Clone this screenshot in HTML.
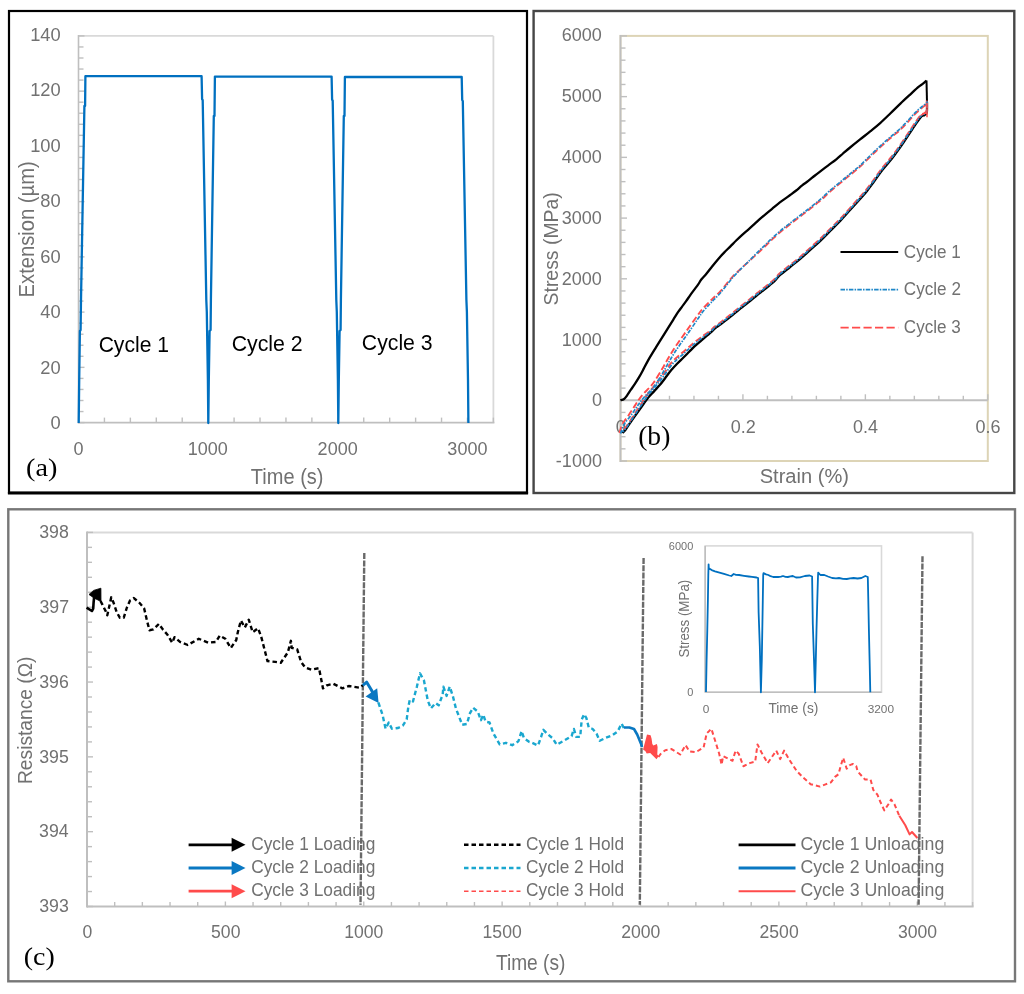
<!DOCTYPE html>
<html><head><meta charset="utf-8"><title>Figure</title>
<style>
html,body{margin:0;padding:0;background:#fff;}
body{width:1024px;height:994px;overflow:hidden;font-family:"Liberation Sans", sans-serif;}
svg{display:block;will-change:transform;}
</style></head>
<body>
<svg width="1024" height="994" viewBox="0 0 1024 994">
<rect x="0" y="0" width="1024" height="994" fill="#fff"/>
<rect x="9.00" y="11.00" width="518.00" height="481.50" fill="none" stroke="#000" stroke-width="2.2"/>
<line x1="7.90" y1="493.20" x2="528.10" y2="493.20" stroke="#000" stroke-width="2.4" />
<rect x="533.60" y="11.00" width="480.70" height="482.00" fill="none" stroke="#464646" stroke-width="2.4"/>
<rect x="8.30" y="509.30" width="1006.70" height="472.00" fill="none" stroke="#777777" stroke-width="2.4"/>
<line x1="78.50" y1="35.90" x2="493.40" y2="35.90" stroke="#d9d9d9" stroke-width="1.8" />
<line x1="493.40" y1="35.90" x2="493.40" y2="422.60" stroke="#d9d9d9" stroke-width="1.8" />
<line x1="78.50" y1="422.60" x2="494.40" y2="422.60" stroke="#bfbfbf" stroke-width="1.8" />
<line x1="78.50" y1="423.50" x2="78.50" y2="35.00" stroke="#bfbfbf" stroke-width="1.6" />
<line x1="78.50" y1="422.60" x2="84.50" y2="422.60" stroke="#bfbfbf" stroke-width="1.4" />
<line x1="78.50" y1="411.55" x2="83.50" y2="411.55" stroke="#bfbfbf" stroke-width="1.4" />
<line x1="78.50" y1="400.50" x2="83.50" y2="400.50" stroke="#bfbfbf" stroke-width="1.4" />
<line x1="78.50" y1="389.45" x2="83.50" y2="389.45" stroke="#bfbfbf" stroke-width="1.4" />
<line x1="78.50" y1="378.41" x2="83.50" y2="378.41" stroke="#bfbfbf" stroke-width="1.4" />
<line x1="78.50" y1="367.36" x2="84.50" y2="367.36" stroke="#bfbfbf" stroke-width="1.4" />
<line x1="78.50" y1="356.31" x2="83.50" y2="356.31" stroke="#bfbfbf" stroke-width="1.4" />
<line x1="78.50" y1="345.26" x2="83.50" y2="345.26" stroke="#bfbfbf" stroke-width="1.4" />
<line x1="78.50" y1="334.21" x2="83.50" y2="334.21" stroke="#bfbfbf" stroke-width="1.4" />
<line x1="78.50" y1="323.16" x2="83.50" y2="323.16" stroke="#bfbfbf" stroke-width="1.4" />
<line x1="78.50" y1="312.11" x2="84.50" y2="312.11" stroke="#bfbfbf" stroke-width="1.4" />
<line x1="78.50" y1="301.07" x2="83.50" y2="301.07" stroke="#bfbfbf" stroke-width="1.4" />
<line x1="78.50" y1="290.02" x2="83.50" y2="290.02" stroke="#bfbfbf" stroke-width="1.4" />
<line x1="78.50" y1="278.97" x2="83.50" y2="278.97" stroke="#bfbfbf" stroke-width="1.4" />
<line x1="78.50" y1="267.92" x2="83.50" y2="267.92" stroke="#bfbfbf" stroke-width="1.4" />
<line x1="78.50" y1="256.87" x2="84.50" y2="256.87" stroke="#bfbfbf" stroke-width="1.4" />
<line x1="78.50" y1="245.82" x2="83.50" y2="245.82" stroke="#bfbfbf" stroke-width="1.4" />
<line x1="78.50" y1="234.77" x2="83.50" y2="234.77" stroke="#bfbfbf" stroke-width="1.4" />
<line x1="78.50" y1="223.73" x2="83.50" y2="223.73" stroke="#bfbfbf" stroke-width="1.4" />
<line x1="78.50" y1="212.68" x2="83.50" y2="212.68" stroke="#bfbfbf" stroke-width="1.4" />
<line x1="78.50" y1="201.63" x2="84.50" y2="201.63" stroke="#bfbfbf" stroke-width="1.4" />
<line x1="78.50" y1="190.58" x2="83.50" y2="190.58" stroke="#bfbfbf" stroke-width="1.4" />
<line x1="78.50" y1="179.53" x2="83.50" y2="179.53" stroke="#bfbfbf" stroke-width="1.4" />
<line x1="78.50" y1="168.48" x2="83.50" y2="168.48" stroke="#bfbfbf" stroke-width="1.4" />
<line x1="78.50" y1="157.43" x2="83.50" y2="157.43" stroke="#bfbfbf" stroke-width="1.4" />
<line x1="78.50" y1="146.39" x2="84.50" y2="146.39" stroke="#bfbfbf" stroke-width="1.4" />
<line x1="78.50" y1="135.34" x2="83.50" y2="135.34" stroke="#bfbfbf" stroke-width="1.4" />
<line x1="78.50" y1="124.29" x2="83.50" y2="124.29" stroke="#bfbfbf" stroke-width="1.4" />
<line x1="78.50" y1="113.24" x2="83.50" y2="113.24" stroke="#bfbfbf" stroke-width="1.4" />
<line x1="78.50" y1="102.19" x2="83.50" y2="102.19" stroke="#bfbfbf" stroke-width="1.4" />
<line x1="78.50" y1="91.14" x2="84.50" y2="91.14" stroke="#bfbfbf" stroke-width="1.4" />
<line x1="78.50" y1="80.09" x2="83.50" y2="80.09" stroke="#bfbfbf" stroke-width="1.4" />
<line x1="78.50" y1="69.05" x2="83.50" y2="69.05" stroke="#bfbfbf" stroke-width="1.4" />
<line x1="78.50" y1="58.00" x2="83.50" y2="58.00" stroke="#bfbfbf" stroke-width="1.4" />
<line x1="78.50" y1="46.95" x2="83.50" y2="46.95" stroke="#bfbfbf" stroke-width="1.4" />
<line x1="78.50" y1="35.90" x2="84.50" y2="35.90" stroke="#bfbfbf" stroke-width="1.4" />
<line x1="104.43" y1="422.60" x2="104.43" y2="417.60" stroke="#bfbfbf" stroke-width="1.4" />
<line x1="130.36" y1="422.60" x2="130.36" y2="417.60" stroke="#bfbfbf" stroke-width="1.4" />
<line x1="156.29" y1="422.60" x2="156.29" y2="417.60" stroke="#bfbfbf" stroke-width="1.4" />
<line x1="182.22" y1="422.60" x2="182.22" y2="417.60" stroke="#bfbfbf" stroke-width="1.4" />
<line x1="208.16" y1="422.60" x2="208.16" y2="417.60" stroke="#bfbfbf" stroke-width="1.4" />
<line x1="234.09" y1="422.60" x2="234.09" y2="417.60" stroke="#bfbfbf" stroke-width="1.4" />
<line x1="260.02" y1="422.60" x2="260.02" y2="417.60" stroke="#bfbfbf" stroke-width="1.4" />
<line x1="285.95" y1="422.60" x2="285.95" y2="417.60" stroke="#bfbfbf" stroke-width="1.4" />
<line x1="311.88" y1="422.60" x2="311.88" y2="417.60" stroke="#bfbfbf" stroke-width="1.4" />
<line x1="337.81" y1="422.60" x2="337.81" y2="417.60" stroke="#bfbfbf" stroke-width="1.4" />
<line x1="363.74" y1="422.60" x2="363.74" y2="417.60" stroke="#bfbfbf" stroke-width="1.4" />
<line x1="389.68" y1="422.60" x2="389.68" y2="417.60" stroke="#bfbfbf" stroke-width="1.4" />
<line x1="415.61" y1="422.60" x2="415.61" y2="417.60" stroke="#bfbfbf" stroke-width="1.4" />
<line x1="441.54" y1="422.60" x2="441.54" y2="417.60" stroke="#bfbfbf" stroke-width="1.4" />
<line x1="467.47" y1="422.60" x2="467.47" y2="417.60" stroke="#bfbfbf" stroke-width="1.4" />
<line x1="493.40" y1="422.60" x2="493.40" y2="417.60" stroke="#bfbfbf" stroke-width="1.4" />
<text x="50.48" y="428.92" font-size="18.31" fill="#717171" text-anchor="start" font-family='"Liberation Sans", sans-serif' >0</text>
<text x="40.32" y="373.50" font-size="18.31" fill="#717171" text-anchor="start" font-family='"Liberation Sans", sans-serif' >20</text>
<text x="40.32" y="318.09" font-size="18.31" fill="#717171" text-anchor="start" font-family='"Liberation Sans", sans-serif' >40</text>
<text x="40.32" y="262.67" font-size="18.31" fill="#717171" text-anchor="start" font-family='"Liberation Sans", sans-serif' >60</text>
<text x="40.32" y="207.26" font-size="18.31" fill="#717171" text-anchor="start" font-family='"Liberation Sans", sans-serif' >80</text>
<text x="30.15" y="151.85" font-size="18.31" fill="#717171" text-anchor="start" font-family='"Liberation Sans", sans-serif' >100</text>
<text x="30.15" y="96.43" font-size="18.31" fill="#717171" text-anchor="start" font-family='"Liberation Sans", sans-serif' >120</text>
<text x="30.15" y="41.02" font-size="18.31" fill="#717171" text-anchor="start" font-family='"Liberation Sans", sans-serif' >140</text>
<text x="73.45" y="454.82" font-size="18.028" fill="#717171" text-anchor="start" font-family='"Liberation Sans", sans-serif' >0</text>
<text x="187.74" y="454.82" font-size="18.028" fill="#717171" text-anchor="start" font-family='"Liberation Sans", sans-serif' >1000</text>
<text x="317.62" y="454.82" font-size="18.028" fill="#717171" text-anchor="start" font-family='"Liberation Sans", sans-serif' >2000</text>
<text x="447.37" y="454.82" font-size="18.028" fill="#717171" text-anchor="start" font-family='"Liberation Sans", sans-serif' >3000</text>
<text x="250.85" y="483.75" font-size="21.739" fill="#717171" text-anchor="start" font-family='"Liberation Sans", sans-serif' textLength="72.63" lengthAdjust="spacingAndGlyphs" >Time (s)</text>
<text x="34.10" y="297.41" font-size="21.304" fill="#717171" text-anchor="start" font-family='"Liberation Sans", sans-serif' textLength="136.12" lengthAdjust="spacingAndGlyphs" transform="rotate(-90 34.10 297.41)" >Extension (µm)</text>
<polyline points="78.70,423.00 79.20,380.00 79.90,331.00 80.60,330.00 81.00,300.00 84.40,106.00 85.10,106.00 85.40,76.20 201.60,76.20 202.10,99.20 202.70,100.20 206.30,300.00 206.80,312.00 207.90,380.00 208.30,423.00 208.80,380.00 209.60,331.00 210.60,330.00 210.90,300.00 213.80,116.00 214.50,116.00 214.90,76.60 331.60,76.60 332.10,99.60 332.70,100.60 336.30,300.00 336.80,312.00 337.90,380.00 338.30,423.00 338.80,380.00 339.60,331.00 340.60,330.00 340.90,300.00 343.80,116.00 344.50,116.00 344.90,77.00 461.70,77.00 462.20,100.00 462.80,101.00 466.40,300.00 466.90,312.00 468.00,380.00 468.40,423.00" fill="none" stroke="#0070c0" stroke-width="2.3" stroke-linejoin="round" stroke-linecap="butt" />
<text x="98.64" y="352.30" font-size="22.609" fill="#000" text-anchor="start" font-family='"Liberation Sans", sans-serif' textLength="70.40" lengthAdjust="spacingAndGlyphs" >Cycle 1</text>
<text x="231.64" y="351.20" font-size="22.029" fill="#000" text-anchor="start" font-family='"Liberation Sans", sans-serif' textLength="71.02" lengthAdjust="spacingAndGlyphs" >Cycle 2</text>
<text x="361.84" y="350.40" font-size="21.739" fill="#000" text-anchor="start" font-family='"Liberation Sans", sans-serif' textLength="70.80" lengthAdjust="spacingAndGlyphs" >Cycle 3</text>
<text x="26.03" y="476.10" font-size="26.044" fill="#000" text-anchor="start" font-family='"Liberation Serif", serif' textLength="31.34" lengthAdjust="spacingAndGlyphs" >(a)</text>
<rect x="620.50" y="35.90" width="367.30" height="425.10" fill="none" stroke="#ddd4b6" stroke-width="2"/>
<line x1="620.50" y1="462.00" x2="620.50" y2="34.90" stroke="#bfbfbf" stroke-width="1.8" />
<line x1="620.50" y1="461.00" x2="627.00" y2="461.00" stroke="#bfbfbf" stroke-width="1.4" />
<line x1="620.50" y1="448.85" x2="625.50" y2="448.85" stroke="#bfbfbf" stroke-width="1.4" />
<line x1="620.50" y1="436.71" x2="625.50" y2="436.71" stroke="#bfbfbf" stroke-width="1.4" />
<line x1="620.50" y1="424.56" x2="625.50" y2="424.56" stroke="#bfbfbf" stroke-width="1.4" />
<line x1="620.50" y1="412.42" x2="625.50" y2="412.42" stroke="#bfbfbf" stroke-width="1.4" />
<line x1="620.50" y1="400.27" x2="627.00" y2="400.27" stroke="#bfbfbf" stroke-width="1.4" />
<line x1="620.50" y1="388.13" x2="625.50" y2="388.13" stroke="#bfbfbf" stroke-width="1.4" />
<line x1="620.50" y1="375.98" x2="625.50" y2="375.98" stroke="#bfbfbf" stroke-width="1.4" />
<line x1="620.50" y1="363.83" x2="625.50" y2="363.83" stroke="#bfbfbf" stroke-width="1.4" />
<line x1="620.50" y1="351.69" x2="625.50" y2="351.69" stroke="#bfbfbf" stroke-width="1.4" />
<line x1="620.50" y1="339.54" x2="627.00" y2="339.54" stroke="#bfbfbf" stroke-width="1.4" />
<line x1="620.50" y1="327.40" x2="625.50" y2="327.40" stroke="#bfbfbf" stroke-width="1.4" />
<line x1="620.50" y1="315.25" x2="625.50" y2="315.25" stroke="#bfbfbf" stroke-width="1.4" />
<line x1="620.50" y1="303.11" x2="625.50" y2="303.11" stroke="#bfbfbf" stroke-width="1.4" />
<line x1="620.50" y1="290.96" x2="625.50" y2="290.96" stroke="#bfbfbf" stroke-width="1.4" />
<line x1="620.50" y1="278.81" x2="627.00" y2="278.81" stroke="#bfbfbf" stroke-width="1.4" />
<line x1="620.50" y1="266.67" x2="625.50" y2="266.67" stroke="#bfbfbf" stroke-width="1.4" />
<line x1="620.50" y1="254.52" x2="625.50" y2="254.52" stroke="#bfbfbf" stroke-width="1.4" />
<line x1="620.50" y1="242.38" x2="625.50" y2="242.38" stroke="#bfbfbf" stroke-width="1.4" />
<line x1="620.50" y1="230.23" x2="625.50" y2="230.23" stroke="#bfbfbf" stroke-width="1.4" />
<line x1="620.50" y1="218.09" x2="627.00" y2="218.09" stroke="#bfbfbf" stroke-width="1.4" />
<line x1="620.50" y1="205.94" x2="625.50" y2="205.94" stroke="#bfbfbf" stroke-width="1.4" />
<line x1="620.50" y1="193.79" x2="625.50" y2="193.79" stroke="#bfbfbf" stroke-width="1.4" />
<line x1="620.50" y1="181.65" x2="625.50" y2="181.65" stroke="#bfbfbf" stroke-width="1.4" />
<line x1="620.50" y1="169.50" x2="625.50" y2="169.50" stroke="#bfbfbf" stroke-width="1.4" />
<line x1="620.50" y1="157.36" x2="627.00" y2="157.36" stroke="#bfbfbf" stroke-width="1.4" />
<line x1="620.50" y1="145.21" x2="625.50" y2="145.21" stroke="#bfbfbf" stroke-width="1.4" />
<line x1="620.50" y1="133.07" x2="625.50" y2="133.07" stroke="#bfbfbf" stroke-width="1.4" />
<line x1="620.50" y1="120.92" x2="625.50" y2="120.92" stroke="#bfbfbf" stroke-width="1.4" />
<line x1="620.50" y1="108.77" x2="625.50" y2="108.77" stroke="#bfbfbf" stroke-width="1.4" />
<line x1="620.50" y1="96.63" x2="627.00" y2="96.63" stroke="#bfbfbf" stroke-width="1.4" />
<line x1="620.50" y1="84.48" x2="625.50" y2="84.48" stroke="#bfbfbf" stroke-width="1.4" />
<line x1="620.50" y1="72.34" x2="625.50" y2="72.34" stroke="#bfbfbf" stroke-width="1.4" />
<line x1="620.50" y1="60.19" x2="625.50" y2="60.19" stroke="#bfbfbf" stroke-width="1.4" />
<line x1="620.50" y1="48.05" x2="625.50" y2="48.05" stroke="#bfbfbf" stroke-width="1.4" />
<line x1="620.50" y1="35.90" x2="627.00" y2="35.90" stroke="#bfbfbf" stroke-width="1.4" />
<line x1="620.50" y1="400.27" x2="987.80" y2="400.27" stroke="#bfbfbf" stroke-width="1.8" />
<line x1="644.99" y1="400.27" x2="644.99" y2="395.77" stroke="#bfbfbf" stroke-width="1.4" />
<line x1="669.47" y1="400.27" x2="669.47" y2="395.77" stroke="#bfbfbf" stroke-width="1.4" />
<line x1="693.96" y1="400.27" x2="693.96" y2="395.77" stroke="#bfbfbf" stroke-width="1.4" />
<line x1="718.45" y1="400.27" x2="718.45" y2="395.77" stroke="#bfbfbf" stroke-width="1.4" />
<line x1="742.93" y1="400.27" x2="742.93" y2="394.27" stroke="#bfbfbf" stroke-width="1.4" />
<line x1="767.42" y1="400.27" x2="767.42" y2="395.77" stroke="#bfbfbf" stroke-width="1.4" />
<line x1="791.91" y1="400.27" x2="791.91" y2="395.77" stroke="#bfbfbf" stroke-width="1.4" />
<line x1="816.39" y1="400.27" x2="816.39" y2="395.77" stroke="#bfbfbf" stroke-width="1.4" />
<line x1="840.88" y1="400.27" x2="840.88" y2="395.77" stroke="#bfbfbf" stroke-width="1.4" />
<line x1="865.37" y1="400.27" x2="865.37" y2="394.27" stroke="#bfbfbf" stroke-width="1.4" />
<line x1="889.85" y1="400.27" x2="889.85" y2="395.77" stroke="#bfbfbf" stroke-width="1.4" />
<line x1="914.34" y1="400.27" x2="914.34" y2="395.77" stroke="#bfbfbf" stroke-width="1.4" />
<line x1="938.83" y1="400.27" x2="938.83" y2="395.77" stroke="#bfbfbf" stroke-width="1.4" />
<line x1="963.31" y1="400.27" x2="963.31" y2="395.77" stroke="#bfbfbf" stroke-width="1.4" />
<line x1="987.80" y1="400.27" x2="987.80" y2="394.27" stroke="#bfbfbf" stroke-width="1.4" />
<text x="555.87" y="467.22" font-size="18.028" fill="#717171" text-anchor="start" font-family='"Liberation Sans", sans-serif' >-1000</text>
<text x="591.93" y="406.36" font-size="18.028" fill="#717171" text-anchor="start" font-family='"Liberation Sans", sans-serif' >0</text>
<text x="561.82" y="345.51" font-size="18.028" fill="#717171" text-anchor="start" font-family='"Liberation Sans", sans-serif' >1000</text>
<text x="561.82" y="284.65" font-size="18.028" fill="#717171" text-anchor="start" font-family='"Liberation Sans", sans-serif' >2000</text>
<text x="561.82" y="223.79" font-size="18.028" fill="#717171" text-anchor="start" font-family='"Liberation Sans", sans-serif' >3000</text>
<text x="561.82" y="162.93" font-size="18.028" fill="#717171" text-anchor="start" font-family='"Liberation Sans", sans-serif' >4000</text>
<text x="561.82" y="102.08" font-size="18.028" fill="#717171" text-anchor="start" font-family='"Liberation Sans", sans-serif' >5000</text>
<text x="561.82" y="41.22" font-size="18.028" fill="#717171" text-anchor="start" font-family='"Liberation Sans", sans-serif' >6000</text>
<text x="615.65" y="432.72" font-size="18.028" fill="#717171" text-anchor="start" font-family='"Liberation Sans", sans-serif' >0</text>
<text x="730.69" y="432.72" font-size="18.028" fill="#717171" text-anchor="start" font-family='"Liberation Sans", sans-serif' >0.2</text>
<text x="852.95" y="432.72" font-size="18.028" fill="#717171" text-anchor="start" font-family='"Liberation Sans", sans-serif' >0.4</text>
<text x="975.47" y="432.72" font-size="18.028" fill="#717171" text-anchor="start" font-family='"Liberation Sans", sans-serif' >0.6</text>
<text x="759.70" y="483.30" font-size="20.725" fill="#717171" text-anchor="start" font-family='"Liberation Sans", sans-serif' textLength="89.32" lengthAdjust="spacingAndGlyphs" >Strain (%)</text>
<text x="558.50" y="305.47" font-size="20.29" fill="#717171" text-anchor="start" font-family='"Liberation Sans", sans-serif' textLength="113.32" lengthAdjust="spacingAndGlyphs" transform="rotate(-90 558.50 305.47)" >Stress (MPa)</text>
<path d="M 620.40,400.20 C 621.02,400.00 622.98,399.82 624.10,399.00 C 625.22,398.18 626.00,396.82 627.10,395.30 C 628.20,393.78 629.40,391.80 630.70,389.90 C 632.00,388.00 633.50,386.02 634.90,383.90 C 636.30,381.78 637.78,379.43 639.10,377.20 C 640.42,374.97 641.32,373.27 642.80,370.50 C 644.28,367.73 645.78,364.48 648.00,360.60 C 650.22,356.72 653.42,351.58 656.10,347.20 C 658.78,342.82 661.25,338.87 664.10,334.30 C 666.95,329.73 670.88,323.48 673.20,319.80 C 675.52,316.12 676.52,314.40 678.00,312.20 C 679.48,310.00 680.75,308.43 682.10,306.60 C 683.45,304.77 684.77,303.08 686.10,301.20 C 687.43,299.32 688.77,297.18 690.10,295.30 C 691.43,293.42 692.75,291.72 694.10,289.90 C 695.45,288.08 697.00,286.13 698.20,284.40 C 699.40,282.67 700.00,281.18 701.30,279.50 C 702.60,277.82 704.20,276.47 706.00,274.30 C 707.80,272.13 710.08,269.02 712.10,266.50 C 714.12,263.98 716.10,261.52 718.10,259.20 C 720.10,256.88 722.08,254.70 724.10,252.60 C 726.12,250.50 728.18,248.62 730.20,246.60 C 732.22,244.58 734.20,242.47 736.20,240.50 C 738.20,238.53 740.18,236.62 742.20,234.80 C 744.22,232.98 746.28,231.37 748.30,229.60 C 750.32,227.83 752.35,225.98 754.30,224.20 C 756.25,222.42 758.05,220.63 760.00,218.90 C 761.95,217.17 763.98,215.48 766.00,213.80 C 768.02,212.12 770.08,210.47 772.10,208.80 C 774.12,207.13 776.10,205.37 778.10,203.80 C 780.10,202.23 782.08,200.87 784.10,199.40 C 786.12,197.93 788.18,196.48 790.20,195.00 C 792.22,193.52 794.20,192.12 796.20,190.50 C 798.20,188.88 800.18,186.90 802.20,185.30 C 804.22,183.70 806.28,182.45 808.30,180.90 C 810.32,179.35 812.40,177.52 814.30,176.00 C 816.20,174.48 817.37,173.58 819.70,171.80 C 822.03,170.02 825.53,167.38 828.30,165.30 C 831.07,163.22 833.85,161.27 836.30,159.30 C 838.75,157.33 840.70,155.47 843.00,153.50 C 845.30,151.53 847.25,149.85 850.10,147.50 C 852.95,145.15 856.75,142.08 860.10,139.40 C 863.45,136.72 866.85,134.12 870.20,131.40 C 873.55,128.68 876.85,126.08 880.20,123.10 C 883.55,120.12 886.93,116.75 890.30,113.50 C 893.67,110.25 897.05,106.80 900.40,103.60 C 903.75,100.40 907.38,97.08 910.40,94.30 C 913.42,91.52 916.40,88.68 918.50,86.90 C 920.60,85.12 921.67,84.65 923.00,83.60 C 924.33,82.55 925.92,81.10 926.50,80.60" fill="none" stroke="#000" stroke-width="2.3" stroke-linejoin="round" />
<polyline points="926.50,80.60 927.00,102.20" fill="none" stroke="#000" stroke-width="2.0" stroke-linejoin="round" stroke-linecap="butt" />
<path d="M 927.00,102.20 C 926.97,103.92 927.22,110.37 926.80,112.50 C 926.38,114.63 925.55,114.17 924.50,115.00 C 923.45,115.83 922.52,115.17 920.50,117.50 C 918.48,119.83 915.42,124.58 912.40,129.00 C 909.38,133.42 905.75,139.17 902.40,144.00 C 899.05,148.83 895.65,153.67 892.30,158.00 C 888.95,162.33 885.35,166.08 882.30,170.00 C 879.25,173.92 876.62,177.92 874.00,181.50 C 871.38,185.08 868.85,188.67 866.60,191.50 C 864.35,194.33 863.18,195.48 860.50,198.50 C 857.82,201.52 853.85,205.90 850.50,209.60 C 847.15,213.30 843.75,217.18 840.40,220.70 C 837.05,224.22 833.75,227.35 830.40,230.70 C 827.05,234.05 823.67,237.60 820.30,240.80 C 816.93,244.00 813.55,246.88 810.20,249.90 C 806.85,252.92 803.55,256.05 800.20,258.90 C 796.85,261.75 793.45,264.32 790.10,267.00 C 786.75,269.68 782.67,272.67 780.10,275.00 C 777.53,277.33 776.50,279.25 774.70,281.00 C 772.90,282.75 771.20,283.95 769.30,285.50 C 767.40,287.05 765.32,288.70 763.30,290.30 C 761.28,291.90 759.22,293.48 757.20,295.10 C 755.18,296.72 753.20,298.38 751.20,300.00 C 749.20,301.62 747.22,303.20 745.20,304.80 C 743.18,306.40 741.12,307.98 739.10,309.60 C 737.08,311.22 735.10,312.88 733.10,314.50 C 731.10,316.12 729.12,317.70 727.10,319.30 C 725.08,320.90 723.02,322.60 721.00,324.10 C 718.98,325.60 716.70,326.92 715.00,328.30 C 713.30,329.68 713.10,330.35 710.80,332.40 C 708.50,334.45 703.87,338.30 701.20,340.60 C 698.53,342.90 696.80,344.33 694.80,346.20 C 692.80,348.07 691.13,349.87 689.20,351.80 C 687.27,353.73 685.22,355.82 683.20,357.80 C 681.18,359.78 679.12,361.62 677.10,363.70 C 675.08,365.78 673.10,367.88 671.10,370.30 C 669.10,372.72 666.92,375.82 665.10,378.20 C 663.28,380.58 662.02,382.45 660.20,384.60 C 658.38,386.75 656.20,388.93 654.20,391.10 C 652.20,393.27 650.52,394.68 648.20,397.60 C 645.88,400.52 642.82,405.10 640.30,408.60 C 637.78,412.10 635.50,415.17 633.10,418.60 C 630.70,422.03 627.67,426.80 625.90,429.20 C 624.13,431.60 623.07,432.37 622.50,433.00" fill="none" stroke="#000" stroke-width="2.3" stroke-linejoin="round" />
<path d="M 926.70,100.40 C 926.67,102.12 926.92,108.57 926.50,110.70 C 926.08,112.83 925.25,112.37 924.20,113.20 C 923.15,114.03 922.22,113.37 920.20,115.70 C 918.18,118.03 915.12,122.78 912.10,127.20 C 909.08,131.62 905.45,137.37 902.10,142.20 C 898.75,147.03 895.35,151.87 892.00,156.20 C 888.65,160.53 885.05,164.28 882.00,168.20 C 878.95,172.12 876.32,176.12 873.70,179.70 C 871.08,183.28 868.55,186.87 866.30,189.70 C 864.05,192.53 862.88,193.68 860.20,196.70 C 857.52,199.72 853.55,204.10 850.20,207.80 C 846.85,211.50 843.45,215.38 840.10,218.90 C 836.75,222.42 833.45,225.55 830.10,228.90 C 826.75,232.25 823.37,235.80 820.00,239.00 C 816.63,242.20 813.25,245.08 809.90,248.10 C 806.55,251.12 803.25,254.25 799.90,257.10 C 796.55,259.95 793.15,262.52 789.80,265.20 C 786.45,267.88 782.37,270.87 779.80,273.20 C 777.23,275.53 776.20,277.45 774.40,279.20 C 772.60,280.95 770.90,282.15 769.00,283.70 C 767.10,285.25 765.02,286.90 763.00,288.50 C 760.98,290.10 758.92,291.68 756.90,293.30 C 754.88,294.92 752.90,296.58 750.90,298.20 C 748.90,299.82 746.92,301.40 744.90,303.00 C 742.88,304.60 740.82,306.18 738.80,307.80 C 736.78,309.42 734.80,311.08 732.80,312.70 C 730.80,314.32 728.82,315.90 726.80,317.50 C 724.78,319.10 722.72,320.80 720.70,322.30 C 718.68,323.80 716.40,325.14 714.70,326.50 C 713.00,327.86 712.80,328.63 710.50,330.44 C 708.20,332.26 703.57,335.44 700.90,337.40 C 698.23,339.35 696.50,340.56 694.50,342.16 C 692.50,343.77 690.83,345.35 688.90,347.04 C 686.97,348.72 684.92,350.53 682.90,352.26 C 680.88,353.98 678.82,355.50 676.80,357.36 C 674.78,359.22 672.80,360.96 670.80,363.42 C 668.80,365.87 666.62,369.48 664.80,372.10 C 662.98,374.72 661.72,376.75 659.90,379.13 C 658.08,381.52 655.90,383.99 653.90,386.41 C 651.90,388.84 650.22,390.48 647.90,393.69 C 645.58,396.91 642.52,401.89 640.00,405.72 C 637.48,409.55 635.20,413.04 632.80,416.66 C 630.40,420.27 627.37,424.98 625.60,427.40 C 623.83,429.82 622.77,430.57 622.20,431.20" fill="none" stroke="#ff4b4b" stroke-width="1.9" stroke-linejoin="round" stroke-dasharray="6.5 3"/>
<path d="M 619.40,432.87 C 619.98,431.27 621.32,426.29 622.90,423.28 C 624.48,420.27 626.90,417.75 628.90,414.81 C 630.90,411.87 633.20,408.24 634.90,405.64 C 636.60,403.04 637.58,401.27 639.10,399.20 C 640.62,397.13 642.18,395.22 644.00,393.20 C 645.82,391.18 648.23,389.10 650.00,387.10 C 651.77,385.10 652.63,384.12 654.60,381.20 C 656.57,378.28 659.92,372.75 661.80,369.60 C 663.68,366.45 664.55,364.65 665.90,362.30 C 667.25,359.95 668.57,357.72 669.90,355.50 C 671.23,353.28 672.42,351.28 673.90,349.00 C 675.38,346.72 677.15,344.18 678.80,341.80 C 680.45,339.42 682.15,337.03 683.80,334.70 C 685.45,332.37 686.52,330.85 688.70,327.80 C 690.88,324.75 694.65,319.48 696.88,316.41 C 699.11,313.33 700.07,311.73 702.10,309.37 C 704.13,307.00 707.18,304.12 709.05,302.22 C 710.93,300.31 711.44,299.79 713.35,297.93 C 715.26,296.08 718.28,293.48 720.51,291.09 C 722.74,288.71 724.69,286.05 726.75,283.61 C 728.81,281.16 730.84,278.60 732.89,276.42 C 734.93,274.24 737.47,272.01 739.02,270.53 C 740.57,269.04 740.62,268.94 742.19,267.48 C 743.76,266.03 746.37,263.69 748.43,261.80 C 750.50,259.90 752.63,257.91 754.57,256.11 C 756.51,254.30 758.12,252.84 760.09,250.98 C 762.06,249.13 764.35,246.98 766.40,245.00 C 768.45,243.02 769.88,241.43 772.40,239.10 C 774.92,236.77 778.97,233.13 781.50,231.00 C 784.03,228.87 785.58,227.88 787.60,226.30 C 789.62,224.72 791.60,223.07 793.60,221.50 C 795.60,219.93 797.58,218.45 799.60,216.90 C 801.62,215.35 803.68,213.75 805.70,212.20 C 807.72,210.65 809.70,209.20 811.70,207.60 C 813.70,206.00 815.92,204.07 817.70,202.60 C 819.48,201.13 820.57,200.45 822.40,198.80 C 824.23,197.15 826.32,194.82 828.70,192.70 C 831.08,190.58 834.02,188.33 836.70,186.10 C 839.38,183.87 842.52,181.18 844.80,179.30 C 847.08,177.42 848.62,176.28 850.40,174.80 C 852.18,173.32 853.83,171.80 855.50,170.40 C 857.17,169.00 857.88,168.75 860.40,166.40 C 862.92,164.05 867.65,159.17 870.60,156.30 C 873.55,153.43 875.58,151.55 878.10,149.20 C 880.62,146.85 883.18,144.43 885.70,142.20 C 888.22,139.97 890.68,137.97 893.20,135.80 C 895.72,133.63 898.27,131.62 900.80,129.20 C 903.33,126.78 905.88,123.98 908.40,121.30 C 910.92,118.62 913.73,115.27 915.90,113.10 C 918.07,110.93 919.57,109.82 921.40,108.30 C 923.23,106.78 925.98,104.72 926.90,104.00" fill="none" stroke="#ff4b4b" stroke-width="1.9" stroke-linejoin="round" stroke-dasharray="6.5 3"/>
<path d="M 927.00,101.20 C 926.97,102.92 927.22,109.37 926.80,111.50 C 926.38,113.63 925.55,113.17 924.50,114.00 C 923.45,114.83 922.52,114.17 920.50,116.50 C 918.48,118.83 915.42,123.58 912.40,128.00 C 909.38,132.42 905.75,138.17 902.40,143.00 C 899.05,147.83 895.65,152.67 892.30,157.00 C 888.95,161.33 885.35,165.08 882.30,169.00 C 879.25,172.92 876.62,176.92 874.00,180.50 C 871.38,184.08 868.85,187.67 866.60,190.50 C 864.35,193.33 863.18,194.48 860.50,197.50 C 857.82,200.52 853.85,204.90 850.50,208.60 C 847.15,212.30 843.75,216.18 840.40,219.70 C 837.05,223.22 833.75,226.35 830.40,229.70 C 827.05,233.05 823.67,236.60 820.30,239.80 C 816.93,243.00 813.55,245.88 810.20,248.90 C 806.85,251.92 803.55,255.05 800.20,257.90 C 796.85,260.75 793.45,263.32 790.10,266.00 C 786.75,268.68 782.67,271.67 780.10,274.00 C 777.53,276.33 776.50,278.25 774.70,280.00 C 772.90,281.75 771.20,282.95 769.30,284.50 C 767.40,286.05 765.32,287.70 763.30,289.30 C 761.28,290.90 759.22,292.48 757.20,294.10 C 755.18,295.72 753.20,297.38 751.20,299.00 C 749.20,300.62 747.22,302.20 745.20,303.80 C 743.18,305.40 741.12,306.98 739.10,308.60 C 737.08,310.22 735.10,311.88 733.10,313.50 C 731.10,315.12 729.12,316.70 727.10,318.30 C 725.08,319.90 723.02,321.60 721.00,323.10 C 718.98,324.60 716.70,325.94 715.00,327.30 C 713.30,328.66 713.10,329.41 710.80,331.29 C 708.50,333.16 703.87,336.53 701.20,338.57 C 698.53,340.62 696.80,341.89 694.80,343.57 C 692.80,345.24 691.13,346.88 689.20,348.63 C 687.27,350.38 685.22,352.27 683.20,354.06 C 681.18,355.86 679.12,357.46 677.10,359.38 C 675.08,361.30 673.10,363.14 671.10,365.59 C 669.10,368.03 666.92,371.50 665.10,374.06 C 663.28,376.61 662.02,378.60 660.20,380.92 C 658.38,383.24 656.20,385.63 654.20,387.99 C 652.20,390.35 650.52,391.92 648.20,395.06 C 645.88,398.20 642.82,403.07 640.30,406.81 C 637.78,410.55 635.50,413.93 633.10,417.50 C 630.70,421.06 627.67,425.78 625.90,428.20 C 624.13,430.62 623.07,431.37 622.50,432.00" fill="none" stroke="#1f87c8" stroke-width="1.7" stroke-linejoin="round" stroke-dasharray="4 1.3 1.5 1.3"/>
<path d="M 620.60,433.50 C 621.18,431.97 622.52,427.13 624.10,424.30 C 625.68,421.47 628.10,419.22 630.10,416.50 C 632.10,413.78 634.40,410.42 636.10,408.00 C 637.80,405.58 638.78,404.00 640.30,402.00 C 641.82,400.00 643.38,398.02 645.20,396.00 C 647.02,393.98 649.43,391.90 651.20,389.90 C 652.97,387.90 653.83,386.92 655.80,384.00 C 657.77,381.08 661.12,375.55 663.00,372.40 C 664.88,369.25 665.75,367.45 667.10,365.10 C 668.45,362.75 669.77,360.52 671.10,358.30 C 672.43,356.08 673.62,354.08 675.10,351.80 C 676.58,349.52 678.35,346.98 680.00,344.60 C 681.65,342.22 683.35,339.83 685.00,337.50 C 686.65,335.17 687.75,333.72 689.90,330.60 C 692.05,327.48 695.72,321.98 697.90,318.80 C 700.08,315.62 701.02,313.97 703.00,311.50 C 704.98,309.03 707.97,306.00 709.80,304.00 C 711.63,302.00 712.13,301.45 714.00,299.50 C 715.87,297.55 718.82,294.80 721.00,292.30 C 723.18,289.80 725.08,287.05 727.10,284.50 C 729.12,281.95 731.10,279.28 733.10,277.00 C 735.10,274.72 737.58,272.37 739.10,270.80 C 740.62,269.23 740.67,269.13 742.20,267.60 C 743.73,266.07 746.28,263.60 748.30,261.60 C 750.32,259.60 752.40,257.50 754.30,255.60 C 756.20,253.70 757.75,252.10 759.70,250.20 C 761.65,248.30 763.95,246.18 766.00,244.20 C 768.05,242.22 769.48,240.63 772.00,238.30 C 774.52,235.97 778.57,232.33 781.10,230.20 C 783.63,228.07 785.18,227.08 787.20,225.50 C 789.22,223.92 791.20,222.27 793.20,220.70 C 795.20,219.13 797.18,217.65 799.20,216.10 C 801.22,214.55 803.28,212.95 805.30,211.40 C 807.32,209.85 809.30,208.40 811.30,206.80 C 813.30,205.20 815.52,203.27 817.30,201.80 C 819.08,200.33 820.17,199.65 822.00,198.00 C 823.83,196.35 825.92,194.02 828.30,191.90 C 830.68,189.78 833.62,187.53 836.30,185.30 C 838.98,183.07 842.12,180.38 844.40,178.50 C 846.68,176.62 848.22,175.48 850.00,174.00 C 851.78,172.52 853.43,171.00 855.10,169.60 C 856.77,168.20 857.48,167.95 860.00,165.60 C 862.52,163.25 867.25,158.37 870.20,155.50 C 873.15,152.63 875.18,150.75 877.70,148.40 C 880.22,146.05 882.78,143.63 885.30,141.40 C 887.82,139.17 890.28,137.17 892.80,135.00 C 895.32,132.83 897.87,130.82 900.40,128.40 C 902.93,125.98 905.48,123.18 908.00,120.50 C 910.52,117.82 913.33,114.47 915.50,112.30 C 917.67,110.13 919.17,109.02 921.00,107.50 C 922.83,105.98 925.58,103.92 926.50,103.20" fill="none" stroke="#1f87c8" stroke-width="1.7" stroke-linejoin="round" stroke-dasharray="4 1.3 1.5 1.3"/>
<polyline points="927.00,103.00 927.00,117.30" fill="none" stroke="#ff4b4b" stroke-width="1.5" stroke-linejoin="round" stroke-linecap="butt" />
<polyline points="920.50,115.50 924.50,113.30 927.00,113.30" fill="none" stroke="#ff4b4b" stroke-width="1.4" stroke-linejoin="round" stroke-linecap="butt" />
<line x1="840.50" y1="251.90" x2="898.20" y2="251.90" stroke="#000" stroke-width="2.0" />
<line x1="840.50" y1="289.70" x2="898.20" y2="289.70" stroke="#1f87c8" stroke-width="1.7" stroke-dasharray="4.5 1.2 1.5 1.2"/>
<line x1="840.50" y1="327.60" x2="898.20" y2="327.60" stroke="#ff4b4b" stroke-width="1.7" stroke-dasharray="8.2 3.3"/>
<text x="903.85" y="257.80" font-size="17.826" fill="#717171" text-anchor="start" font-family='"Liberation Sans", sans-serif' textLength="57.02" lengthAdjust="spacingAndGlyphs" >Cycle 1</text>
<text x="903.84" y="295.40" font-size="17.826" fill="#717171" text-anchor="start" font-family='"Liberation Sans", sans-serif' textLength="57.10" lengthAdjust="spacingAndGlyphs" >Cycle 2</text>
<text x="903.85" y="333.00" font-size="17.826" fill="#717171" text-anchor="start" font-family='"Liberation Sans", sans-serif' textLength="56.93" lengthAdjust="spacingAndGlyphs" >Cycle 3</text>
<text x="638.16" y="445.18" font-size="26.593" fill="#000" text-anchor="start" font-family='"Liberation Serif", serif' textLength="32.18" lengthAdjust="spacingAndGlyphs" >(b)</text>
<line x1="87.00" y1="532.40" x2="972.60" y2="532.40" stroke="#d9d9d9" stroke-width="2" />
<line x1="972.60" y1="532.40" x2="972.60" y2="906.50" stroke="#d9d9d9" stroke-width="2" />
<line x1="87.00" y1="906.50" x2="973.60" y2="906.50" stroke="#bfbfbf" stroke-width="2" />
<line x1="87.00" y1="907.50" x2="87.00" y2="531.40" stroke="#bfbfbf" stroke-width="2" />
<line x1="87.00" y1="906.50" x2="93.00" y2="906.50" stroke="#bfbfbf" stroke-width="1.4" />
<line x1="87.00" y1="891.54" x2="92.00" y2="891.54" stroke="#bfbfbf" stroke-width="1.4" />
<line x1="87.00" y1="876.57" x2="92.00" y2="876.57" stroke="#bfbfbf" stroke-width="1.4" />
<line x1="87.00" y1="861.61" x2="92.00" y2="861.61" stroke="#bfbfbf" stroke-width="1.4" />
<line x1="87.00" y1="846.64" x2="92.00" y2="846.64" stroke="#bfbfbf" stroke-width="1.4" />
<line x1="87.00" y1="831.68" x2="93.00" y2="831.68" stroke="#bfbfbf" stroke-width="1.4" />
<line x1="87.00" y1="816.72" x2="92.00" y2="816.72" stroke="#bfbfbf" stroke-width="1.4" />
<line x1="87.00" y1="801.75" x2="92.00" y2="801.75" stroke="#bfbfbf" stroke-width="1.4" />
<line x1="87.00" y1="786.79" x2="92.00" y2="786.79" stroke="#bfbfbf" stroke-width="1.4" />
<line x1="87.00" y1="771.82" x2="92.00" y2="771.82" stroke="#bfbfbf" stroke-width="1.4" />
<line x1="87.00" y1="756.86" x2="93.00" y2="756.86" stroke="#bfbfbf" stroke-width="1.4" />
<line x1="87.00" y1="741.90" x2="92.00" y2="741.90" stroke="#bfbfbf" stroke-width="1.4" />
<line x1="87.00" y1="726.93" x2="92.00" y2="726.93" stroke="#bfbfbf" stroke-width="1.4" />
<line x1="87.00" y1="711.97" x2="92.00" y2="711.97" stroke="#bfbfbf" stroke-width="1.4" />
<line x1="87.00" y1="697.00" x2="92.00" y2="697.00" stroke="#bfbfbf" stroke-width="1.4" />
<line x1="87.00" y1="682.04" x2="93.00" y2="682.04" stroke="#bfbfbf" stroke-width="1.4" />
<line x1="87.00" y1="667.08" x2="92.00" y2="667.08" stroke="#bfbfbf" stroke-width="1.4" />
<line x1="87.00" y1="652.11" x2="92.00" y2="652.11" stroke="#bfbfbf" stroke-width="1.4" />
<line x1="87.00" y1="637.15" x2="92.00" y2="637.15" stroke="#bfbfbf" stroke-width="1.4" />
<line x1="87.00" y1="622.18" x2="92.00" y2="622.18" stroke="#bfbfbf" stroke-width="1.4" />
<line x1="87.00" y1="607.22" x2="93.00" y2="607.22" stroke="#bfbfbf" stroke-width="1.4" />
<line x1="87.00" y1="592.26" x2="92.00" y2="592.26" stroke="#bfbfbf" stroke-width="1.4" />
<line x1="87.00" y1="577.29" x2="92.00" y2="577.29" stroke="#bfbfbf" stroke-width="1.4" />
<line x1="87.00" y1="562.33" x2="92.00" y2="562.33" stroke="#bfbfbf" stroke-width="1.4" />
<line x1="87.00" y1="547.36" x2="92.00" y2="547.36" stroke="#bfbfbf" stroke-width="1.4" />
<line x1="87.00" y1="532.40" x2="93.00" y2="532.40" stroke="#bfbfbf" stroke-width="1.4" />
<line x1="114.67" y1="906.50" x2="114.67" y2="902.00" stroke="#bfbfbf" stroke-width="1.4" />
<line x1="142.35" y1="906.50" x2="142.35" y2="902.00" stroke="#bfbfbf" stroke-width="1.4" />
<line x1="170.03" y1="906.50" x2="170.03" y2="902.00" stroke="#bfbfbf" stroke-width="1.4" />
<line x1="197.70" y1="906.50" x2="197.70" y2="902.00" stroke="#bfbfbf" stroke-width="1.4" />
<line x1="225.38" y1="906.50" x2="225.38" y2="901.50" stroke="#bfbfbf" stroke-width="1.4" />
<line x1="253.05" y1="906.50" x2="253.05" y2="902.00" stroke="#bfbfbf" stroke-width="1.4" />
<line x1="280.73" y1="906.50" x2="280.73" y2="902.00" stroke="#bfbfbf" stroke-width="1.4" />
<line x1="308.40" y1="906.50" x2="308.40" y2="902.00" stroke="#bfbfbf" stroke-width="1.4" />
<line x1="336.07" y1="906.50" x2="336.07" y2="902.00" stroke="#bfbfbf" stroke-width="1.4" />
<line x1="363.75" y1="906.50" x2="363.75" y2="901.50" stroke="#bfbfbf" stroke-width="1.4" />
<line x1="391.43" y1="906.50" x2="391.43" y2="902.00" stroke="#bfbfbf" stroke-width="1.4" />
<line x1="419.10" y1="906.50" x2="419.10" y2="902.00" stroke="#bfbfbf" stroke-width="1.4" />
<line x1="446.77" y1="906.50" x2="446.77" y2="902.00" stroke="#bfbfbf" stroke-width="1.4" />
<line x1="474.45" y1="906.50" x2="474.45" y2="902.00" stroke="#bfbfbf" stroke-width="1.4" />
<line x1="502.12" y1="906.50" x2="502.12" y2="901.50" stroke="#bfbfbf" stroke-width="1.4" />
<line x1="529.80" y1="906.50" x2="529.80" y2="902.00" stroke="#bfbfbf" stroke-width="1.4" />
<line x1="557.48" y1="906.50" x2="557.48" y2="902.00" stroke="#bfbfbf" stroke-width="1.4" />
<line x1="585.15" y1="906.50" x2="585.15" y2="902.00" stroke="#bfbfbf" stroke-width="1.4" />
<line x1="612.83" y1="906.50" x2="612.83" y2="902.00" stroke="#bfbfbf" stroke-width="1.4" />
<line x1="640.50" y1="906.50" x2="640.50" y2="901.50" stroke="#bfbfbf" stroke-width="1.4" />
<line x1="668.17" y1="906.50" x2="668.17" y2="902.00" stroke="#bfbfbf" stroke-width="1.4" />
<line x1="695.85" y1="906.50" x2="695.85" y2="902.00" stroke="#bfbfbf" stroke-width="1.4" />
<line x1="723.52" y1="906.50" x2="723.52" y2="902.00" stroke="#bfbfbf" stroke-width="1.4" />
<line x1="751.20" y1="906.50" x2="751.20" y2="902.00" stroke="#bfbfbf" stroke-width="1.4" />
<line x1="778.88" y1="906.50" x2="778.88" y2="901.50" stroke="#bfbfbf" stroke-width="1.4" />
<line x1="806.55" y1="906.50" x2="806.55" y2="902.00" stroke="#bfbfbf" stroke-width="1.4" />
<line x1="834.23" y1="906.50" x2="834.23" y2="902.00" stroke="#bfbfbf" stroke-width="1.4" />
<line x1="861.90" y1="906.50" x2="861.90" y2="902.00" stroke="#bfbfbf" stroke-width="1.4" />
<line x1="889.58" y1="906.50" x2="889.58" y2="902.00" stroke="#bfbfbf" stroke-width="1.4" />
<line x1="917.25" y1="906.50" x2="917.25" y2="901.50" stroke="#bfbfbf" stroke-width="1.4" />
<line x1="944.92" y1="906.50" x2="944.92" y2="902.00" stroke="#bfbfbf" stroke-width="1.4" />
<line x1="972.60" y1="906.50" x2="972.60" y2="902.00" stroke="#bfbfbf" stroke-width="1.4" />
<text x="39.26" y="912.22" font-size="17.746" fill="#717171" text-anchor="start" font-family='"Liberation Sans", sans-serif' >393</text>
<text x="39.08" y="837.40" font-size="17.746" fill="#717171" text-anchor="start" font-family='"Liberation Sans", sans-serif' >394</text>
<text x="39.26" y="762.58" font-size="17.746" fill="#717171" text-anchor="start" font-family='"Liberation Sans", sans-serif' >395</text>
<text x="39.26" y="687.76" font-size="17.746" fill="#717171" text-anchor="start" font-family='"Liberation Sans", sans-serif' >396</text>
<text x="39.44" y="612.94" font-size="17.746" fill="#717171" text-anchor="start" font-family='"Liberation Sans", sans-serif' >397</text>
<text x="39.26" y="538.12" font-size="17.746" fill="#717171" text-anchor="start" font-family='"Liberation Sans", sans-serif' >398</text>
<text x="82.47" y="937.67" font-size="17.606" fill="#717171" text-anchor="start" font-family='"Liberation Sans", sans-serif' >0</text>
<text x="211.07" y="937.67" font-size="17.606" fill="#717171" text-anchor="start" font-family='"Liberation Sans", sans-serif' >500</text>
<text x="344.21" y="937.67" font-size="17.606" fill="#717171" text-anchor="start" font-family='"Liberation Sans", sans-serif' >1000</text>
<text x="482.59" y="937.67" font-size="17.606" fill="#717171" text-anchor="start" font-family='"Liberation Sans", sans-serif' >1500</text>
<text x="621.18" y="937.67" font-size="17.606" fill="#717171" text-anchor="start" font-family='"Liberation Sans", sans-serif' >2000</text>
<text x="759.56" y="937.67" font-size="17.606" fill="#717171" text-anchor="start" font-family='"Liberation Sans", sans-serif' >2500</text>
<text x="898.02" y="937.67" font-size="17.606" fill="#717171" text-anchor="start" font-family='"Liberation Sans", sans-serif' >3000</text>
<text x="495.92" y="970.40" font-size="21.449" fill="#717171" text-anchor="start" font-family='"Liberation Sans", sans-serif' textLength="69.41" lengthAdjust="spacingAndGlyphs" >Time (s)</text>
<text x="32.50" y="784.04" font-size="20.435" fill="#717171" text-anchor="start" font-family='"Liberation Sans", sans-serif' textLength="127.55" lengthAdjust="spacingAndGlyphs" transform="rotate(-90 32.50 784.04)" >Resistance (Ω)</text>
<text x="23.74" y="964.98" font-size="26.154" fill="#000" text-anchor="start" font-family='"Liberation Serif", serif' textLength="31.01" lengthAdjust="spacingAndGlyphs" >(c)</text>
<line x1="188.60" y1="844.80" x2="233.00" y2="844.80" stroke="#000" stroke-width="2.8" />
<polygon points="231.6,837.8 245.5,844.8 231.6,851.8" fill="#000"/>
<text x="251.23" y="849.80" font-size="17.826" fill="#717171" text-anchor="start" font-family='"Liberation Sans", sans-serif' textLength="124.12" lengthAdjust="spacingAndGlyphs" >Cycle 1 Loading</text>
<line x1="464.00" y1="844.80" x2="520.50" y2="844.80" stroke="#000" stroke-width="2.6" stroke-dasharray="4.5 3"/>
<text x="526.04" y="849.80" font-size="17.826" fill="#717171" text-anchor="start" font-family='"Liberation Sans", sans-serif' textLength="97.97" lengthAdjust="spacingAndGlyphs" >Cycle 1 Hold</text>
<line x1="738.60" y1="844.80" x2="795.50" y2="844.80" stroke="#000" stroke-width="2.8" />
<text x="800.41" y="849.80" font-size="17.826" fill="#717171" text-anchor="start" font-family='"Liberation Sans", sans-serif' textLength="143.85" lengthAdjust="spacingAndGlyphs" >Cycle 1 Unloading</text>
<line x1="188.60" y1="868.00" x2="233.00" y2="868.00" stroke="#0a78c2" stroke-width="2.8" />
<polygon points="231.6,861.0 245.5,868.0 231.6,875.0" fill="#0a78c2"/>
<text x="251.23" y="873.00" font-size="17.826" fill="#717171" text-anchor="start" font-family='"Liberation Sans", sans-serif' textLength="124.12" lengthAdjust="spacingAndGlyphs" >Cycle 2 Loading</text>
<line x1="464.00" y1="868.00" x2="520.50" y2="868.00" stroke="#1aa7cf" stroke-width="2.6" stroke-dasharray="4.5 3"/>
<text x="526.04" y="873.00" font-size="17.826" fill="#717171" text-anchor="start" font-family='"Liberation Sans", sans-serif' textLength="97.97" lengthAdjust="spacingAndGlyphs" >Cycle 2 Hold</text>
<line x1="738.60" y1="868.00" x2="795.50" y2="868.00" stroke="#0a78c2" stroke-width="2.8" />
<text x="800.41" y="873.00" font-size="17.826" fill="#717171" text-anchor="start" font-family='"Liberation Sans", sans-serif' textLength="143.85" lengthAdjust="spacingAndGlyphs" >Cycle 2 Unloading</text>
<line x1="188.60" y1="891.20" x2="233.00" y2="891.20" stroke="#ff4b4b" stroke-width="2.8" />
<polygon points="231.6,884.2 245.5,891.2 231.6,898.2" fill="#ff4b4b"/>
<text x="251.23" y="896.20" font-size="17.826" fill="#717171" text-anchor="start" font-family='"Liberation Sans", sans-serif' textLength="124.12" lengthAdjust="spacingAndGlyphs" >Cycle 3 Loading</text>
<line x1="464.00" y1="891.20" x2="520.50" y2="891.20" stroke="#ff4b4b" stroke-width="1.6" stroke-dasharray="4.5 3"/>
<text x="526.04" y="896.20" font-size="17.826" fill="#717171" text-anchor="start" font-family='"Liberation Sans", sans-serif' textLength="97.97" lengthAdjust="spacingAndGlyphs" >Cycle 3 Hold</text>
<line x1="738.60" y1="891.20" x2="795.50" y2="891.20" stroke="#ff4b4b" stroke-width="2.0" />
<text x="800.41" y="896.20" font-size="17.826" fill="#717171" text-anchor="start" font-family='"Liberation Sans", sans-serif' textLength="143.85" lengthAdjust="spacingAndGlyphs" >Cycle 3 Unloading</text>
<line x1="364.30" y1="553.10" x2="360.50" y2="904.80" stroke="#696969" stroke-width="2.4" stroke-dasharray="6 1.3"/>
<line x1="643.60" y1="557.90" x2="639.80" y2="904.80" stroke="#696969" stroke-width="2.4" stroke-dasharray="6 1.3"/>
<line x1="922.50" y1="556.30" x2="918.60" y2="904.80" stroke="#696969" stroke-width="2.4" stroke-dasharray="6 1.3"/>
<polyline points="100.50,601.00 101.90,603.60 105.80,611.40 107.30,615.30 111.25,597.30 113.60,602.80 116.70,612.20 119.80,617.70 123.75,617.70 126.90,607.50 130.00,600.50 133.90,598.10 139.40,602.80 144.10,608.30 147.20,621.60 149.50,630.20 153.40,629.40 158.90,623.90 162.80,629.40 167.50,634.80 172.20,642.70 174.50,637.20 180.00,641.90 187.80,645.00 198.75,638.75 208.10,642.70 215.90,641.90 219.80,635.60 225.30,638.75 230.80,648.10 236.25,640.00 237.80,632.20 240.90,620.50 244.80,627.50 248.75,619.70 252.70,632.20 258.10,628.30 261.25,636.90 267.50,661.10 275.30,661.90 280.80,662.70 287.80,652.50 290.90,640.80 291.70,647.80 297.20,649.40 301.10,661.90 305.00,667.30 311.25,669.70 319.00,668.10 323.00,688.40 326.90,685.30 333.10,683.75 342.50,688.40 348.75,686.00 359.70,687.70 362.80,685.30" fill="none" stroke="#000" stroke-width="2.4" stroke-linejoin="round" stroke-linecap="butt" stroke-dasharray="4.5 3"/>
<polyline points="86.60,607.60 91.90,611.00 93.20,608.70 93.60,602.50 94.20,596.50" fill="none" stroke="#000" stroke-width="2.6" stroke-linejoin="round" stroke-linecap="butt" />
<polygon points="89.0,594.5 93.6,590.4 100.9,588.2 101.0,601.5 94.3,598.2" fill="#000" stroke="#000" stroke-width="0.8" stroke-linejoin="round"/>
<polyline points="362.80,685.30 366.70,682.20 371.40,690.00 373.50,694.00" fill="none" stroke="#0a78c2" stroke-width="3" stroke-linejoin="round" stroke-linecap="butt" />
<polygon points="365.6,696.6 377.2,688.2 378.6,703" fill="#0a78c2"/>
<polyline points="378.40,702.50 382.50,714.70 385.60,728.75 388.75,722.50 391.90,728.75 398.10,728.00 402.80,725.60 406.70,719.40 408.30,706.90 409.80,699.80 413.00,701.40 416.90,686.60 420.00,673.30 423.90,680.30 427.80,700.60 430.90,708.40 435.60,703.00 438.75,705.30 442.70,694.40 443.40,686.60 446.60,695.90 449.70,686.60 452.80,695.90 455.90,708.40 462.20,724.80 466.90,724.00 470.00,713.10 473.10,707.70 477.80,711.60 480.90,720.20 483.30,714.70 485.60,721.70 489.50,722.50 493.40,733.40 499.70,744.40 505.90,742.80 512.20,745.20 518.40,741.25 521.60,731.10 523.90,738.10 529.40,742.00 530.90,742.30 538.00,745.50 541.10,736.90 543.40,729.80 547.30,733.75 552.80,738.40 556.70,744.70 563.75,740.80 571.60,736.10 573.90,729.00 576.25,736.90 580.20,736.90 581.70,719.70 584.10,714.20 586.40,718.10 588.75,727.50 592.70,729.00 596.60,733.75 599.70,740.80 605.90,737.70 612.20,735.30 617.70,731.40 621.60,723.60 623.90,728.30" fill="none" stroke="#1aa7cf" stroke-width="2.4" stroke-linejoin="round" stroke-linecap="butt" stroke-dasharray="4.5 3"/>
<polyline points="623.90,727.50 629.40,727.50 634.00,729.00 637.20,734.50 641.10,743.90 642.00,747.00" fill="none" stroke="#0a78c2" stroke-width="2.6" stroke-linejoin="round" stroke-linecap="butt" />
<polygon points="643.2,749 647,734.6 650.6,735.3 651.6,738.8 652.3,744.1 653.4,745.5 656.9,744.1 657.6,746.9 657.3,754.6 658.7,756.1 656.5,759.2 650.2,752.9 646.7,753.6 645.3,751.1 643.2,749.7" fill="#ff4b4b"/>
<polyline points="658.50,757.00 660.60,754.00 665.30,750.20 671.60,749.10 680.20,754.50 685.60,745.20 689.50,751.40 695.80,752.20 703.60,747.50 706.70,733.40 711.40,728.75 715.30,741.25 719.20,753.75 721.60,764.70 723.10,756.10 727.80,758.40 732.50,760.80 735.60,750.60 738.75,753.75 743.40,766.25 749.70,763.10 755.20,761.60 757.50,744.40 761.40,752.20 767.70,763.10 773.10,755.30 776.25,750.60 780.20,759.20 784.10,750.60 789.50,760.00 796.60,770.90 802.80,777.20 810.60,784.20 820.00,786.60 825.50,784.40 830.90,782.40 835.00,776.90 838.50,774.20 840.50,766.70 843.20,757.80 846.70,768.70 849.40,765.30 852.80,763.90 856.20,766.00 857.60,771.40 865.10,779.60 870.60,779.60 873.30,789.90 877.40,794.70 880.20,801.50 884.30,810.40 888.40,804.30 891.10,799.50 894.50,804.30 899.30,815.90" fill="none" stroke="#ff4b4b" stroke-width="2.0" stroke-linejoin="round" stroke-linecap="butt" stroke-dasharray="4.5 3"/>
<polyline points="899.30,815.70 905.30,825.30 909.60,834.40 912.00,832.00 917.40,838.00" fill="none" stroke="#ff4b4b" stroke-width="2.0" stroke-linejoin="round" stroke-linecap="butt" />
<rect x="705.2" y="545.9" width="176.3" height="146.3" fill="#fff" stroke="#d9d9d9" stroke-width="1.6"/>
<line x1="705.20" y1="692.20" x2="881.50" y2="692.20" stroke="#bfbfbf" stroke-width="1.6" />
<line x1="705.20" y1="692.20" x2="705.20" y2="545.90" stroke="#bfbfbf" stroke-width="1.6" />
<text x="668.84" y="550.19" font-size="10.986" fill="#717171" text-anchor="start" font-family='"Liberation Sans", sans-serif' >6000</text>
<text x="687.19" y="696.29" font-size="10.986" fill="#717171" text-anchor="start" font-family='"Liberation Sans", sans-serif' >0</text>
<text x="702.69" y="713.28" font-size="11.831" fill="#717171" text-anchor="start" font-family='"Liberation Sans", sans-serif' >0</text>
<text x="867.71" y="713.28" font-size="11.831" fill="#717171" text-anchor="start" font-family='"Liberation Sans", sans-serif' >3200</text>
<text x="768.42" y="713.00" font-size="14.493" fill="#717171" text-anchor="start" font-family='"Liberation Sans", sans-serif' textLength="49.96" lengthAdjust="spacingAndGlyphs" >Time (s)</text>
<text x="689.50" y="657.60" font-size="13.913" fill="#717171" text-anchor="start" font-family='"Liberation Sans", sans-serif' textLength="77.86" lengthAdjust="spacingAndGlyphs" transform="rotate(-90 689.50 657.60)" >Stress (MPa)</text>
<polyline points="706.00,692.00 706.60,660.00 707.30,630.00 707.90,600.00 708.30,575.00 708.60,564.30 708.80,568.20 711.70,570.10 715.00,571.30 719.50,572.60 724.00,573.80 729.30,575.50 731.30,576.00 733.70,574.00 736.00,574.80 739.10,575.00 744.00,575.80 748.80,576.50 752.00,576.90 756.60,577.50 758.10,578.00 758.60,612.00 759.80,646.00 760.90,692.30 761.80,660.00 762.30,630.00 762.80,600.00 763.20,575.00 763.50,573.10 766.00,574.40 768.40,575.00 770.50,576.20 773.20,577.00 778.10,577.00 781.00,576.60 783.00,576.00 785.50,576.80 787.90,577.00 790.50,576.40 792.80,576.00 796.00,577.50 800.00,577.30 804.80,576.00 809.60,575.50 812.10,576.50 812.80,623.70 814.00,660.00 815.00,692.30 815.80,660.00 816.50,630.00 817.30,600.00 818.00,576.00 818.20,572.60 820.40,575.00 824.30,575.00 828.00,576.50 832.10,578.00 836.00,578.30 839.00,578.00 843.00,578.80 846.80,579.00 850.00,578.40 853.60,578.00 857.50,578.50 861.40,578.00 865.30,576.00 867.80,577.00 868.30,600.00 868.90,630.00 869.60,660.00 870.30,692.30" fill="none" stroke="#0070c0" stroke-width="1.8" stroke-linejoin="round" stroke-linecap="butt" />
</svg>
</body></html>
